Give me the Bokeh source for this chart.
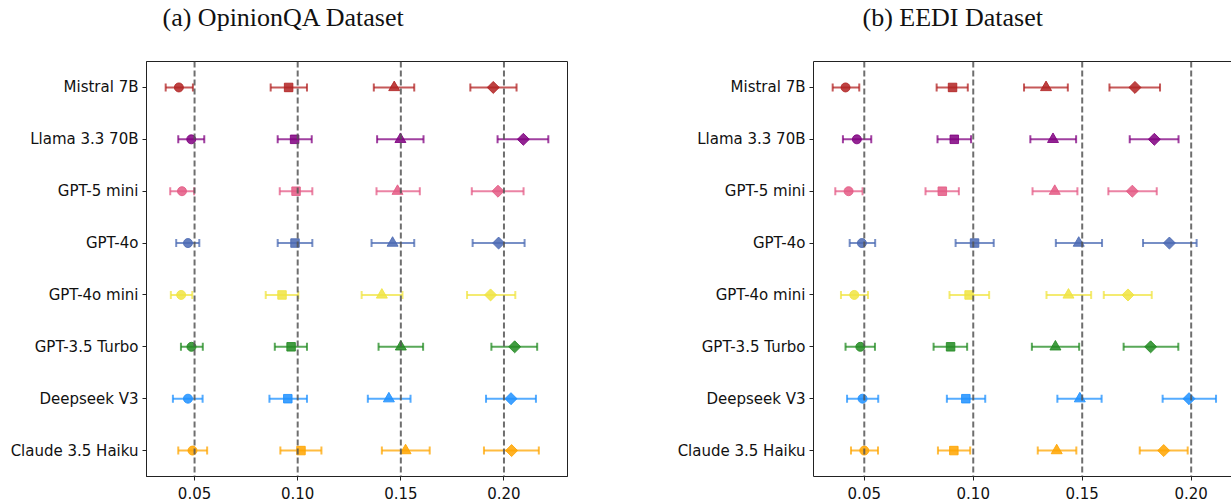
from bokeh.plotting import figure
from bokeh.models import (ColumnDataSource, Whisker, TeeHead, FactorRange, Range1d,
                          FixedTicker, NumeralTickFormatter, Span, LinearAxis, Title)
from bokeh.layouts import row
from bokeh.embed import file_html
from bokeh.resources import INLINE
import numpy as np

# ---------------- data (top to bottom) ----------------
models = ["Mistral 7B", "Llama 3.3 70B", "GPT-5 mini", "GPT-4o", "GPT-4o mini",
          "GPT-3.5 Turbo", "Deepseek V3", "Claude 3.5 Haiku"]
model_colors = ["#B22222", "#800080", "#E45A85", "#4A69B3", "#F0E442",
                "#228B22", "#1E90FF", "#FFA500"]
ticks = [0.05, 0.10, 0.15, 0.20]

# OpinionQA
opqa_circle = [0.0424, 0.0484, 0.0439, 0.0468, 0.0435, 0.0485, 0.0468, 0.0490]
opqa_circle_lo = [0.0360, 0.0421, 0.0382, 0.0411, 0.0385, 0.0434, 0.0395, 0.0421]
opqa_circle_hi = [0.0492, 0.0547, 0.0498, 0.0523, 0.0489, 0.0540, 0.0539, 0.0561]
opqa_square = [0.0956, 0.0985, 0.0992, 0.0987, 0.0924, 0.0968, 0.0952, 0.1016]
opqa_square_lo = [0.0869, 0.0903, 0.0913, 0.0903, 0.0845, 0.0889, 0.0863, 0.0916]
opqa_square_hi = [0.1045, 0.1068, 0.1071, 0.1071, 0.1003, 0.1045, 0.1045, 0.1115]
opqa_triangle = [0.1468, 0.1498, 0.1484, 0.1460, 0.1408, 0.1500, 0.1442, 0.1523]
opqa_triangle_lo = [0.1369, 0.1385, 0.1382, 0.1358, 0.1310, 0.1392, 0.1340, 0.1408]
opqa_triangle_hi = [0.1565, 0.1610, 0.1592, 0.1565, 0.1508, 0.1608, 0.1547, 0.1640]
opqa_diamond = [0.1948, 0.2094, 0.1971, 0.1974, 0.1935, 0.2052, 0.2034, 0.2037]
opqa_diamond_lo = [0.1837, 0.1969, 0.1844, 0.1848, 0.1821, 0.1939, 0.1913, 0.1903]
opqa_diamond_hi = [0.2061, 0.2215, 0.2095, 0.2100, 0.2055, 0.2161, 0.2155, 0.2169]

# EEDI
eedi_circle = [0.0414, 0.0466, 0.0428, 0.0489, 0.0454, 0.0482, 0.0492, 0.0500]
eedi_circle_lo = [0.0355, 0.0402, 0.0367, 0.0433, 0.0393, 0.0414, 0.0421, 0.0439]
eedi_circle_hi = [0.0477, 0.0532, 0.0492, 0.0550, 0.0517, 0.0549, 0.0564, 0.0563]
eedi_square = [0.0905, 0.0913, 0.0858, 0.1006, 0.0981, 0.0896, 0.0966, 0.0911]
eedi_square_lo = [0.0832, 0.0836, 0.0781, 0.0919, 0.0891, 0.0818, 0.0879, 0.0838]
eedi_square_hi = [0.0975, 0.0990, 0.0934, 0.1094, 0.1073, 0.0972, 0.1055, 0.0986]
eedi_triangle = [0.1334, 0.1366, 0.1374, 0.1484, 0.1437, 0.1377, 0.1489, 0.1383]
eedi_triangle_lo = [0.1233, 0.1262, 0.1272, 0.1379, 0.1336, 0.1269, 0.1386, 0.1296]
eedi_triangle_hi = [0.1434, 0.1472, 0.1478, 0.1591, 0.1541, 0.1486, 0.1589, 0.1473]
eedi_diamond = [0.1742, 0.1831, 0.1730, 0.1900, 0.1710, 0.1814, 0.1990, 0.1874]
eedi_diamond_lo = [0.1625, 0.1718, 0.1620, 0.1779, 0.1599, 0.1690, 0.1869, 0.1764]
eedi_diamond_hi = [0.1857, 0.1942, 0.1842, 0.2025, 0.1819, 0.1941, 0.2114, 0.1984]

opqa = [(opqa_circle, opqa_circle_lo, opqa_circle_hi, "circle"),
        (opqa_square, opqa_square_lo, opqa_square_hi, "square"),
        (opqa_triangle, opqa_triangle_lo, opqa_triangle_hi, "triangle"),
        (opqa_diamond, opqa_diamond_lo, opqa_diamond_hi, "diamond")]
eedi = [(eedi_circle, eedi_circle_lo, eedi_circle_hi, "circle"),
        (eedi_square, eedi_square_lo, eedi_square_hi, "square"),
        (eedi_triangle, eedi_triangle_lo, eedi_triangle_hi, "triangle"),
        (eedi_diamond, eedi_diamond_lo, eedi_diamond_hi, "diamond")]

marker_style = {
    "circle": dict(marker="circle", size=9, angle=0.0),
    "square": dict(marker="square", size=8.5, angle=0.0),
    "triangle": dict(marker="triangle", size=11, angle=0.0),
    "diamond": dict(marker="square", size=8.5, angle=np.pi / 4),
}


def style_axis(ax, standoff):
    ax.axis_line_color = "#222222"
    ax.major_tick_line_color = "#222222"
    ax.major_tick_out = 4
    ax.major_tick_in = 0
    ax.minor_tick_line_color = None
    ax.major_label_text_font = "DejaVu Sans"
    ax.major_label_text_font_size = "15px"
    ax.major_label_text_color = "#111111"
    ax.major_label_standoff = standoff


def make_panel(title, series, width, x_end, border_left, border_right, title_offset,
               full_frame, spacer_px):
    p = figure(width=width, height=501, output_backend="svg", toolbar_location=None,
               y_range=FactorRange(factors=list(reversed(models))),
               x_range=Range1d(0.0267, x_end),
               min_border_left=border_left, min_border_right=border_right,
               min_border_top=0, min_border_bottom=23)
    p.title = None
    p.grid.visible = False
    p.background_fill_color = "white"
    p.border_fill_color = "white"

    bottom = p.below[0]
    bottom.ticker = FixedTicker(ticks=ticks)
    bottom.formatter = NumeralTickFormatter(format="0.00")
    style_axis(bottom, 6)
    style_axis(p.left[0], 4)

    if full_frame:
        p.outline_line_color = "#222222"
        p.outline_line_width = 1
        p.outline_line_alpha = 1.0
    else:
        p.outline_line_color = None
        top = LinearAxis(ticker=FixedTicker(ticks=[]), axis_line_color="#222222",
                         major_tick_line_color=None, minor_tick_line_color=None,
                         major_label_text_font_size="0px", major_label_standoff=0)
        p.add_layout(top, "above")

    # spacer between the frame and the caption, then the caption itself
    p.add_layout(Title(text=" ", text_font_size=spacer_px, standoff=0), "above")
    p.add_layout(Title(text=title, text_font="Liberation Serif", text_font_size="26px",
                       text_font_style="normal", align="left", offset=title_offset,
                       text_color="#111111", standoff=0), "above")

    for t in ticks:
        p.add_layout(Span(location=t, dimension="height", line_color="#555555",
                          line_dash="6 3", line_width=2, line_alpha=0.85))

    for vals, lo, hi, kind in series:
        src = ColumnDataSource(dict(model=models, x=vals, lower=lo, upper=hi, color=model_colors))
        w = Whisker(source=src, base="model", lower="lower", upper="upper", dimension="width",
                    line_color="color", line_width=2, line_alpha=0.75)
        w.upper_head = TeeHead(size=8, line_color="color", line_width=2, line_alpha=0.75)
        w.lower_head = TeeHead(size=8, line_color="color", line_width=2, line_alpha=0.75)
        p.add_layout(w)
        ms = marker_style[kind]
        p.scatter(x="x", y="model", source=src, marker=ms["marker"], size=ms["size"],
                  angle=ms["angle"], fill_color="color", line_color="color",
                  fill_alpha=0.85, line_alpha=0.85)
    return p


left = make_panel("(a) OpinionQA Dataset", opqa, width=600, x_end=0.2308,
                  border_left=146, border_right=33, title_offset=16, full_frame=True,
                  spacer_px="25px")
right = make_panel("(b) EEDI Dataset", eedi, width=631, x_end=0.2185,
                   border_left=213, border_right=0, title_offset=49, full_frame=False,
                   spacer_px="25px")

layout = row(left, right)
open("out.html", "w").write(file_html(layout, INLINE))
